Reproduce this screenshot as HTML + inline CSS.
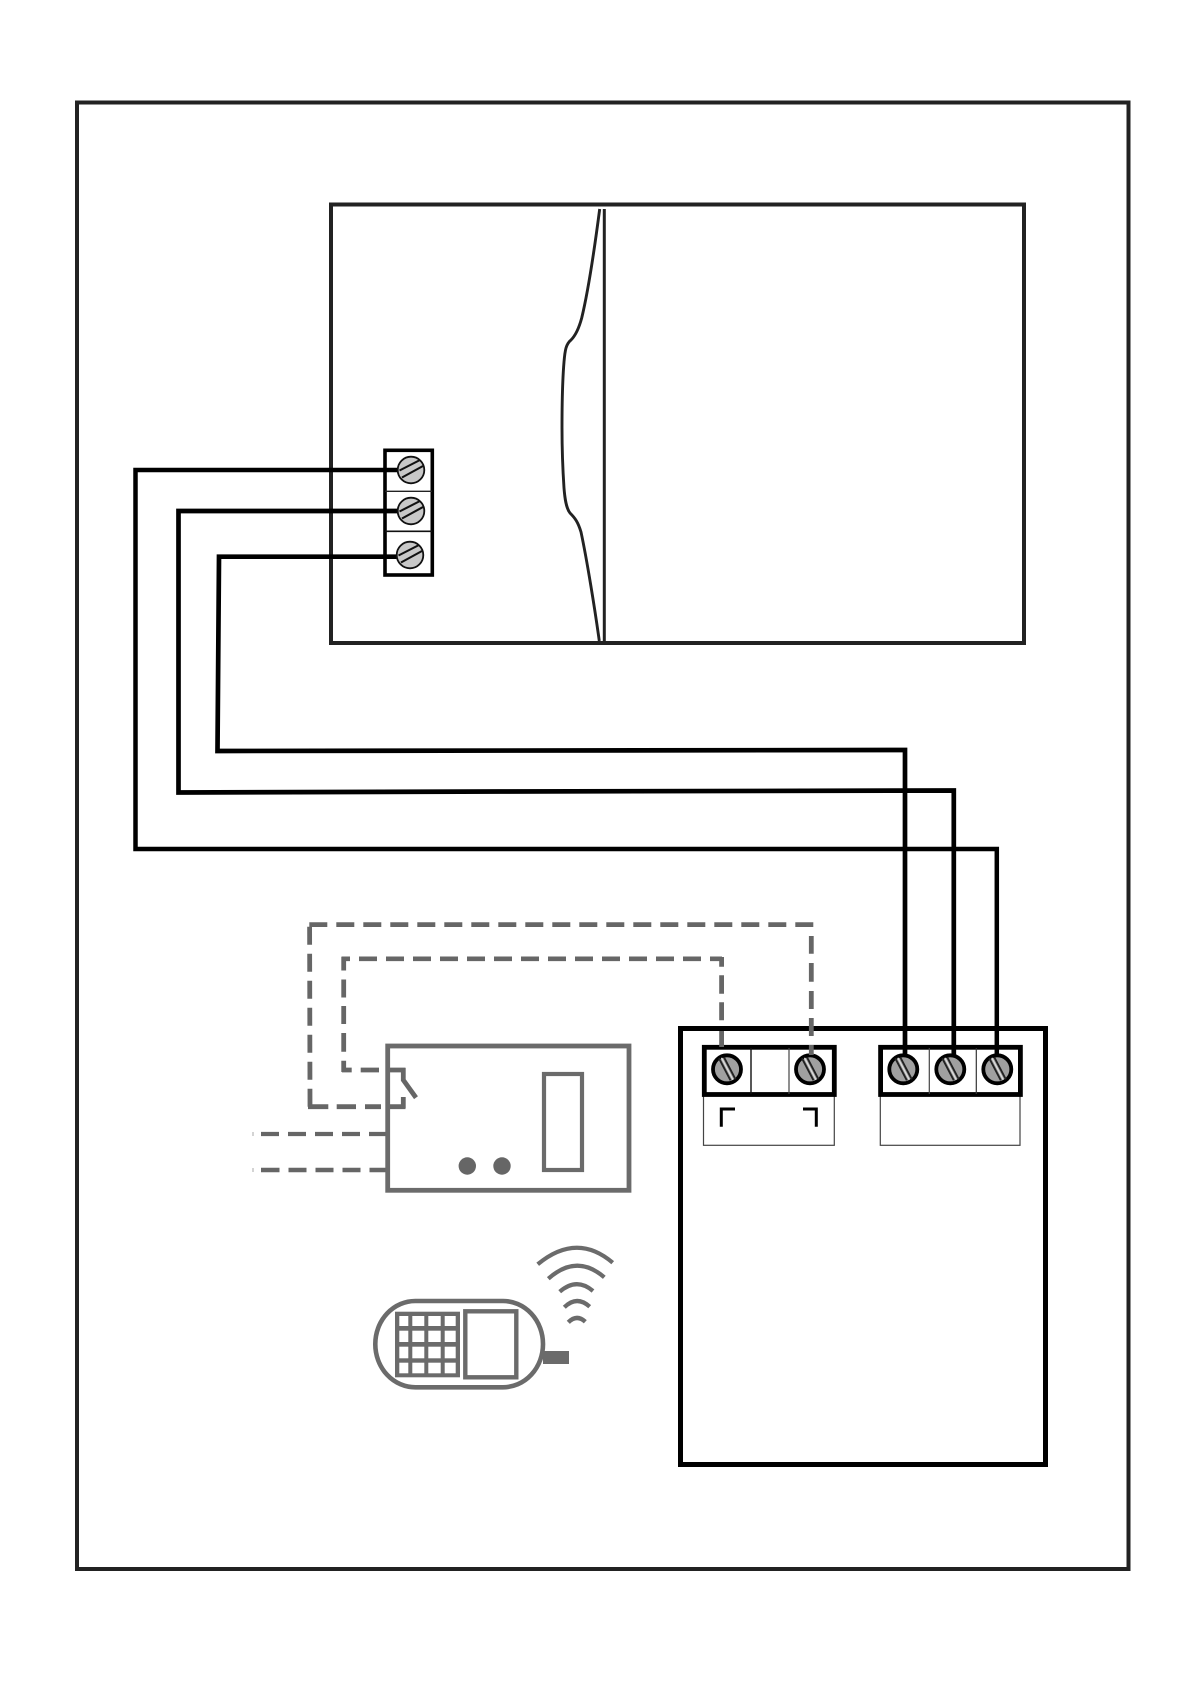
<!DOCTYPE html>
<html>
<head>
<meta charset="utf-8">
<style>
html,body{margin:0;padding:0;background:#fff;width:1191px;height:1684px;overflow:hidden}
svg{display:block}
</style>
</head>
<body>
<svg xmlns="http://www.w3.org/2000/svg" width="1191" height="1684" viewBox="0 0 1191 1684">
<defs>
<g id="sl">
  <circle r="13.3" fill="#c8c8c8" stroke="#111" stroke-width="1.8"/>
  <line x1="-11.5" y1="0.5" x2="9" y2="-10" stroke="#111" stroke-width="2.1"/>
  <line x1="-9" y1="7.5" x2="12" y2="-4" stroke="#111" stroke-width="2.1"/>
</g>
<g id="sr">
  <circle r="14" fill="#a0a0a0" stroke="#000" stroke-width="3.8"/>
  <line x1="-8" y1="-11" x2="3.5" y2="11" stroke="#222" stroke-width="1.9"/>
  <line x1="-3" y1="-12" x2="8.5" y2="10" stroke="#222" stroke-width="1.9"/>
  <line x1="-5.5" y1="-11.5" x2="6" y2="10.5" stroke="#ddd" stroke-width="1.3"/>
</g>
</defs>

<rect width="1191" height="1684" fill="#fff"/>

<!-- frame -->
<rect x="77" y="102.5" width="1051.5" height="1466.5" fill="none" stroke="#222" stroke-width="4"/>

<!-- upper box -->
<rect x="331" y="204.5" width="693" height="438.5" fill="none" stroke="#222" stroke-width="4"/>
<line x1="604.3" y1="209" x2="604.3" y2="641" stroke="#222" stroke-width="3"/>
<path d="M599.7,209 C595,245 588,292 581.7,318 C579,328 575,336 571,340 C566,344 565,350 564,362 C562.5,380 562,405 562,428 C562,450 562.8,470 564,488 C564.8,498 566,508 570,513 C575,518 578,522 581,532 C587,560 595,610 599.3,641" fill="none" stroke="#222" stroke-width="2.9"/>

<!-- left terminal -->
<rect x="385" y="450.3" width="47.3" height="124.7" fill="#fff" stroke="#000" stroke-width="3.6"/>
<line x1="385" y1="491.3" x2="432" y2="491.3" stroke="#222" stroke-width="1.3"/>
<line x1="385" y1="531.3" x2="432" y2="531.3" stroke="#111" stroke-width="1.7"/>

<!-- panel -->
<rect x="680.5" y="1028.5" width="365" height="436" fill="#fff" stroke="#000" stroke-width="5"/>

<!-- lower label boxes -->
<rect x="703.5" y="1090" width="130.8" height="55.3" fill="#fff" stroke="#444" stroke-width="1.2"/>
<rect x="880.3" y="1090" width="139.7" height="55.3" fill="#fff" stroke="#444" stroke-width="1.2"/>
<path d="M721.3,1126.7 V1109 H735" fill="none" stroke="#000" stroke-width="3"/>
<path d="M803,1109 H816.3 V1126.7" fill="none" stroke="#000" stroke-width="3"/>

<!-- terminal blocks -->
<rect x="704.3" y="1047.3" width="130" height="47.2" fill="#fff" stroke="#000" stroke-width="4.8"/>
<line x1="751" y1="1048" x2="751" y2="1094" stroke="#111" stroke-width="1.4"/>
<line x1="789" y1="1048" x2="789" y2="1094" stroke="#444" stroke-width="1.2"/>
<rect x="880.6" y="1047.3" width="139.8" height="47.2" fill="#fff" stroke="#000" stroke-width="4.8"/>
<line x1="929.3" y1="1048" x2="929.3" y2="1094" stroke="#444" stroke-width="1.2"/>
<line x1="976.3" y1="1048" x2="976.3" y2="1094" stroke="#333" stroke-width="1.2"/>

<!-- black wires -->
<g fill="none" stroke="#000" stroke-linejoin="miter">
  <path d="M398,470 H135.5 V849 H996.8 V1056" stroke-width="4.5"/>
  <path d="M398,511 H178.5 V792.5 L500,791.5 L953.8,790.5 V1056" stroke-width="4.7"/>
  <path d="M398,556.7 H219 L217.5,751 L905,750 V1056" stroke-width="4.7"/>
</g>

<!-- screws -->
<use href="#sl" x="411" y="470"/>
<use href="#sl" x="411" y="511"/>
<use href="#sl" x="410" y="555"/>
<use href="#sr" x="727" y="1069.3"/>
<use href="#sr" x="810" y="1069.3"/>
<use href="#sr" x="903.3" y="1069.3"/>
<use href="#sr" x="950.3" y="1069.3"/>
<use href="#sr" x="997.3" y="1069.3"/>

<!-- dashed grey wires -->
<g fill="none" stroke="#666" stroke-width="4.8">
  <line x1="309.3" y1="924.6" x2="813.8" y2="924.6" stroke-dasharray="18 9"/>
  <line x1="309.6" y1="926.7" x2="310" y2="1107" stroke-dasharray="18 9"/>
  <path d="M308,1106.7 H328.3 M336.7,1106.7 H356 M365,1106.7 H381 M386.7,1106.7 H405.5"/>
  <path d="M403.3,1108 V1097"/>
  <line x1="341.7" y1="958.8" x2="722" y2="958.8" stroke-dasharray="8.3 9 18 9 18 9 18 9 18 9 18 9 18 9 18 9 18 9 18 9 18 9 18 9 18 9 18 9 12" stroke-width="4.6"/>
  <path d="M343.7,956.7 V970.5 M343.7,979.5 V997.5 M343.7,1006 V1024 M343.7,1033 V1051.7 M343.7,1060.7 V1072"/>
  <path d="M342,1070 H351.7 M360.7,1070 H379 M386.7,1070 H405.5"/>
  <path d="M403.3,1068 V1080 L416,1097.7"/>
  <path d="M721.6,957 V966.7 M721.6,975.3 V993.7 M721.6,1002.3 V1020.3 M721.6,1031 V1047"/>
  <path d="M811.3,936 V953.7 M811.3,963 V981.7 M811.3,991 V1009 M811.3,1018 V1036 M811.3,1045 V1055"/>
  <path d="M261,1134 H279 M288,1134 H306 M315,1134 H333 M342,1134 H360 M369,1134 H386" stroke-width="4.2"/>
  <path d="M261,1170 H279.5 M288.5,1170 H306.5 M315.5,1170 H333.5 M342.5,1170 H360.5 M369.5,1170 H386" stroke-width="4.5"/>
  <path d="M252.5,1134 H253.5 M252.5,1170 H253.5" stroke="#aaa" stroke-width="4"/>
</g>

<!-- receiver -->
<rect x="387.7" y="1046" width="241.3" height="144.3" fill="none" stroke="#6b6b6b" stroke-width="4.8"/>
<rect x="544" y="1074" width="38" height="96" fill="none" stroke="#6b6b6b" stroke-width="4.2"/>
<circle cx="467.3" cy="1166" r="8.7" fill="#666"/>
<circle cx="502" cy="1166" r="8.7" fill="#666"/>

<!-- phone -->
<rect x="543" y="1351" width="26" height="13" fill="#6b6b6b"/>
<rect x="375.3" y="1301" width="167.7" height="86.3" rx="40" ry="43" fill="#fff" stroke="#6b6b6b" stroke-width="4.6"/>
<rect x="395" y="1311.7" width="65" height="65.6" fill="#6b6b6b"/>
<g fill="#fff">
  <rect x="399.3" y="1316" width="9" height="10"/><rect x="412.3" y="1316" width="12" height="10"/><rect x="428.3" y="1316" width="12.4" height="10"/><rect x="444.7" y="1316" width="11" height="10"/>
  <rect x="399.3" y="1330.7" width="9" height="11.3"/><rect x="412.3" y="1330.7" width="12" height="11.3"/><rect x="428.3" y="1330.7" width="12.4" height="11.3"/><rect x="444.7" y="1330.7" width="11" height="11.3"/>
  <rect x="399.3" y="1346.7" width="9" height="11.6"/><rect x="412.3" y="1346.7" width="12" height="11.6"/><rect x="428.3" y="1346.7" width="12.4" height="11.6"/><rect x="444.7" y="1346.7" width="11" height="11.6"/>
  <rect x="399.3" y="1362.7" width="9" height="10.6"/><rect x="412.3" y="1362.7" width="12" height="10.6"/><rect x="428.3" y="1362.7" width="12.4" height="10.6"/><rect x="444.7" y="1362.7" width="11" height="10.6"/>
</g>
<rect x="465.3" y="1311.3" width="51" height="66" fill="#fff" stroke="#6b6b6b" stroke-width="4.4"/>
<g fill="none" stroke="#6b6b6b" stroke-width="4.2">
  <path d="M537.7,1264.3 Q576.7,1232 612.7,1262.7"/>
  <path d="M548.3,1278.7 Q576.7,1253.5 604.3,1277.3"/>
  <path d="M559.7,1291.7 Q576.7,1277 593,1291"/>
  <path d="M564.3,1307.3 Q576.7,1295 589.7,1306.7"/>
  <path d="M568.3,1322.3 Q576.7,1313.8 585.3,1321.7" stroke-width="4.4"/>
</g>
</svg>
</body>
</html>
